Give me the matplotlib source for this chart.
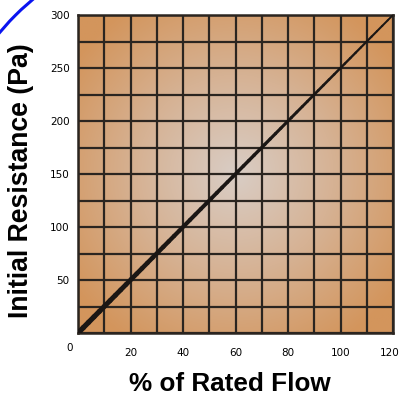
import numpy as np
import matplotlib
matplotlib.use("Agg")
import matplotlib.pyplot as plt
from matplotlib.colors import LinearSegmentedColormap
from matplotlib.collections import LineCollection
from matplotlib.patches import Arc
from matplotlib.transforms import ScaledTranslation

# data
flow_pct = [0, 120]          # % of rated flow
resistance_pa = [0, 300]     # initial resistance (Pa)
x_ticks_grid = list(range(0, 130, 10))
y_ticks_grid = list(range(0, 325, 25))
x_tick_labels = ["20", "40", "60", "80", "100", "120"]
y_tick_labels = ["50", "100", "150", "200", "250", "300"]

GRID_COL = "#2b2520"
CENTER_COL = "#d9cdc5"
EDGE_COL = "#d3955c"

fig = plt.figure(figsize=(4.01, 4.01), dpi=100)
fig.patch.set_facecolor("white")
ax = fig.add_axes([78 / 401, 68 / 401, 315 / 401, 318 / 401])

# radial background gradient
xx, yy = np.meshgrid(np.linspace(-1, 1, 300), np.linspace(-1, 1, 300))
rr = np.clip(np.sqrt(xx ** 2 + yy ** 2) / 1.25, 0, 1)
cmap = LinearSegmentedColormap.from_list("bg", [CENTER_COL, "#d6b294", EDGE_COL])
ax.imshow(rr, cmap=cmap, extent=[0, 120, 0, 300], aspect="auto",
          origin="lower", zorder=0, vmin=0, vmax=1)

ax.set_xlim(0, 120)
ax.set_ylim(0, 300)
ax.set_xticks(x_ticks_grid)
ax.set_yticks(y_ticks_grid)
ax.grid(True, color=GRID_COL, lw=1.6, zorder=1)
ax.set_axisbelow(False)
ax.tick_params(length=0, labelsize=7.5, pad=0)

xl = [str(v) if str(v) in x_tick_labels else "" for v in x_ticks_grid]
yl = [str(v) if str(v) in y_tick_labels else "" for v in y_ticks_grid]
ax.set_xticklabels(xl)
ax.set_yticklabels(yl)
ax.tick_params(axis="x", pad=11)
ax.tick_params(axis="y", pad=6)
# keep the last label inside the canvas
last = ax.get_xticklabels()[-1]
last.set_transform(last.get_transform() + ScaledTranslation(-3 / 100, 0, fig.dpi_scale_trans))
ax.annotate("0", xy=(0, 0), xytext=(-6, -11), textcoords="offset points",
            fontsize=7.5, ha="center", va="center")

for s in ax.spines.values():
    s.set_color(GRID_COL)
    s.set_linewidth(1.8)

# tapering line (thick at origin)
t = np.linspace(0, 1, 60)
px = flow_pct[0] + t * (flow_pct[1] - flow_pct[0])
py = resistance_pa[0] + t * (resistance_pa[1] - resistance_pa[0])
pts = np.column_stack([px, py]).reshape(-1, 1, 2)
segs = np.concatenate([pts[:-1], pts[1:]], axis=1)
widths = np.linspace(3.8, 1.4, len(segs))
lc = LineCollection(segs, linewidths=widths, colors="#1a1614",
                    capstyle="round", zorder=3)
ax.add_collection(lc)

fig.text(21 / 401, 1 - 181 / 401, "Initial Resistance (Pa)", rotation=90,
         ha="center", va="center", fontsize=19.2, fontweight="bold",
         family="Liberation Sans")
fig.text(230 / 401, 17 / 401, "% of Rated Flow", ha="center", va="center",
         fontsize=18.8, fontweight="bold", family="Liberation Sans")

# blue arc in top-left corner
arc = Arc((1.90, 4.01 - 1.90), 4.94, 4.94, theta1=120, theta2=150,
          transform=fig.dpi_scale_trans, color="#0a14f0", lw=2.2)
fig.add_artist(arc)

fig.savefig("out.png", dpi=100)
